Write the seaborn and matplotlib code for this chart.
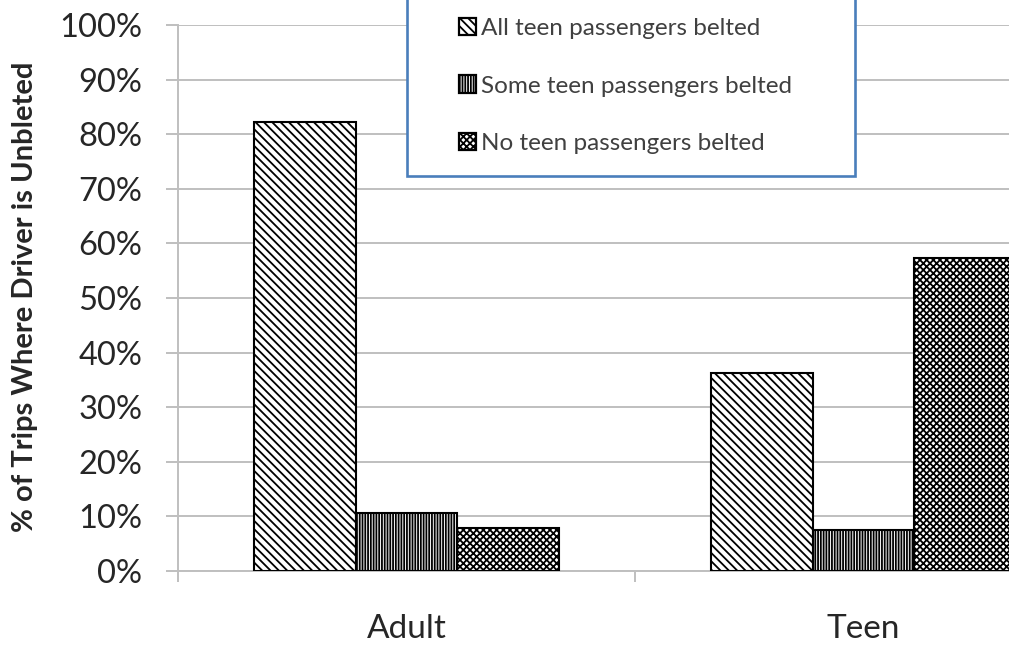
import matplotlib
matplotlib.use("Agg")
import matplotlib.pyplot as plt
from matplotlib.patches import Patch, Rectangle
from matplotlib.ticker import PercentFormatter
import seaborn as sns
import pandas as pd

# Share of trips with an unbelted driver, by driver group and passenger belt status
groups = ["Adult", "Teen"]
belt_status = ["All teen passengers belted",
               "Some teen passengers belted",
               "No teen passengers belted"]
all_belted = [82.2, 36.3]
some_belted = [10.6, 7.5]
none_belted = [7.9, 57.3]
y_ticks = [0, 10, 20, 30, 40, 50, 60, 70, 80, 90, 100]

df = pd.DataFrame({
    "group": groups * 3,
    "status": [s for s in belt_status for _ in groups],
    "pct": all_belted + some_belted + none_belted,
})

sns.set_theme(style="white")
plt.rcParams["font.family"] = ["Lato", "DejaVu Sans"]
plt.rcParams["hatch.color"] = "black"
plt.rcParams["hatch.linewidth"] = 1.3

GRID = "#BFBFBF"
TEXT = "#262626"
hatches = ["\\\\\\\\", "||||||", "xxxxx"]

fig = plt.figure(figsize=(10.09, 6.45), dpi=100)
ax = fig.add_axes([178 / 1009, 74 / 645, 914 / 1009, 546 / 645])

sns.barplot(data=df, x="group", y="pct", hue="status", hue_order=belt_status,
            order=groups, palette=["white"] * 3, width=0.667, gap=0,
            edgecolor="black", linewidth=1.5, legend=False, ax=ax, zorder=3)

for container, h in zip(ax.containers, hatches):
    for bar in container:
        bar.set_hatch(h)
        bar.set_edgecolor("black")

ax.set_ylim(0, 100)
ax.set_xlim(-0.5, 1.5)
ax.set_yticks(y_ticks)
ax.yaxis.set_major_formatter(PercentFormatter(decimals=0))
ax.yaxis.grid(True, color=GRID, linewidth=1.4, zorder=0)
ax.set_axisbelow(True)

# category boundaries as ticks, names centred between them
ax.set_xticks([-0.5, 0.5, 1.5])
ax.set_xticklabels(["", "", ""])
ax.set_xticks([0, 1], groups, minor=True)
ax.tick_params(axis="x", which="minor", length=0, pad=31, labelsize=24, labelcolor=TEXT)
ax.tick_params(axis="x", which="major", length=8, width=1.4, color=GRID, direction="out", bottom=True)
ax.tick_params(axis="y", length=8.6, width=1.4, color=GRID, direction="out", left=True,
               pad=17, labelsize=23.5, labelcolor=TEXT)

for side in ["top", "right"]:
    ax.spines[side].set_visible(False)
for side in ["left", "bottom"]:
    ax.spines[side].set_color(GRID)
    ax.spines[side].set_linewidth(1.4)

ax.set_xlabel("")
ax.set_ylabel("")
fig.text(25 / 1009, 1 - 297 / 645, "% of Trips Where Driver is Unbleted",
         rotation=90, ha="center", va="center", fontsize=21, fontweight="bold", color=TEXT)

# legend box, open past the top edge of the figure
frame = Rectangle((407 / 1009, 1 - 176 / 645), 448 / 1009, 0.4,
                  transform=fig.transFigure, facecolor="white",
                  edgecolor="#4A7EBB", linewidth=1.9, zorder=2)
fig.add_artist(frame)

handles = [Patch(facecolor="white", edgecolor="black", hatch=h, linewidth=1.6) for h in hatches]
fig.legend(handles, belt_status, loc="center left",
           bbox_to_anchor=(459 / 1009, 1 - 86 / 645), frameon=False,
           fontsize=17.5, labelcolor="#404040", handlelength=0.7, handleheight=0.7,
           handletextpad=0.2, labelspacing=1.52, borderpad=0, borderaxespad=0)

fig.savefig("out.png", dpi=100)
